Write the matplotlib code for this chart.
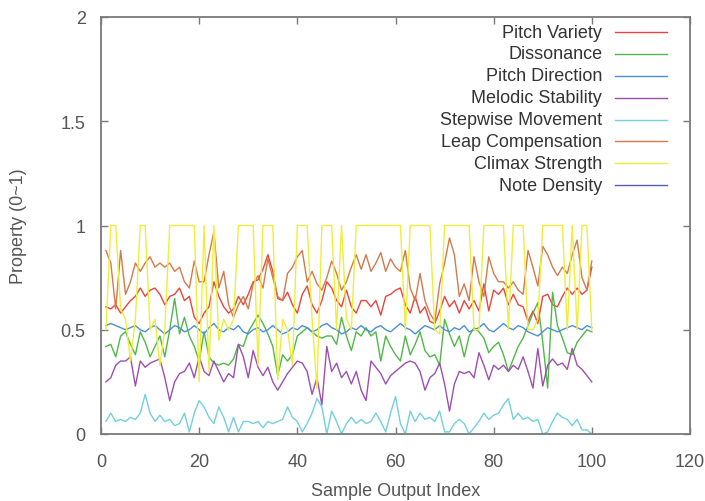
import matplotlib
matplotlib.use("Agg")
import matplotlib.pyplot as plt
import numpy as np

plt.rcParams["font.family"] = ["Liberation Sans", "DejaVu Sans"]

sample_index = list(range(1, 101))

pitch_variety = [
    0.61, 0.60, 0.62, 0.58, 0.61, 0.64, 0.66, 0.70, 0.66, 0.69,
    0.70, 0.67, 0.62, 0.66, 0.67, 0.70, 0.64, 0.66, 0.56, 0.53,
    0.58, 0.61, 0.73, 0.66, 0.61, 0.58, 0.60, 0.66, 0.62, 0.67,
    0.73, 0.74, 0.79, 0.86, 0.78, 0.65, 0.64, 0.68, 0.62, 0.58,
    0.67, 0.71, 0.62, 0.58, 0.64, 0.73, 0.70, 0.64, 0.61, 0.69,
    0.61, 0.58, 0.64, 0.64, 0.61, 0.64, 0.57, 0.66, 0.67, 0.69,
    0.70, 0.62, 0.58, 0.66, 0.58, 0.61, 0.54, 0.53, 0.59, 0.66,
    0.61, 0.64, 0.58, 0.64, 0.60, 0.64, 0.59, 0.72, 0.59, 0.69,
    0.67, 0.70, 0.62, 0.67, 0.62, 0.61, 0.54, 0.59, 0.53, 0.66,
    0.67, 0.62, 0.61, 0.66, 0.70, 0.67, 0.70, 0.67, 0.69, 0.80,
]

dissonance = [
    0.42, 0.43, 0.37, 0.47, 0.49, 0.43, 0.38, 0.49, 0.44, 0.37,
    0.42, 0.47, 0.37, 0.50, 0.65, 0.48, 0.56, 0.47, 0.42, 0.35,
    0.49, 0.37, 0.34, 0.33, 0.34, 0.33, 0.36, 0.43, 0.42, 0.49,
    0.53, 0.57, 0.53, 0.48, 0.42, 0.28, 0.38, 0.35, 0.38, 0.47,
    0.49, 0.51, 0.49, 0.47, 0.46, 0.47, 0.47, 0.43, 0.56, 0.47,
    0.40, 0.49, 0.47, 0.51, 0.47, 0.49, 0.35, 0.47, 0.42, 0.38,
    0.35, 0.47, 0.38, 0.43, 0.49, 0.40, 0.37, 0.38, 0.33, 0.55,
    0.48, 0.42, 0.47, 0.37, 0.47, 0.51, 0.49, 0.46, 0.39, 0.42,
    0.44, 0.38, 0.30, 0.36, 0.42, 0.46, 0.52, 0.58, 0.63, 0.44,
    0.22, 0.68, 0.52, 0.46, 0.39, 0.38, 0.44, 0.47, 0.50, 0.49,
]

pitch_direction = [
    0.52, 0.53, 0.52, 0.51, 0.50, 0.51, 0.52, 0.50, 0.49, 0.51,
    0.52, 0.50, 0.48, 0.50, 0.52, 0.51, 0.49, 0.50, 0.52, 0.50,
    0.48, 0.51, 0.53, 0.50, 0.49, 0.51, 0.50, 0.52, 0.49, 0.48,
    0.50, 0.51, 0.49, 0.50, 0.52, 0.50, 0.48, 0.49, 0.51, 0.50,
    0.52, 0.51, 0.49, 0.50, 0.52, 0.53, 0.51, 0.50, 0.48, 0.49,
    0.51, 0.50, 0.52, 0.50, 0.49, 0.51, 0.52, 0.50, 0.49, 0.51,
    0.53, 0.51, 0.50, 0.48, 0.50, 0.52, 0.51, 0.50, 0.52, 0.50,
    0.49, 0.51, 0.50, 0.52, 0.49, 0.50, 0.51, 0.53, 0.50, 0.49,
    0.51, 0.53, 0.51, 0.50, 0.52, 0.51, 0.49, 0.48, 0.47, 0.49,
    0.51, 0.50, 0.49, 0.50, 0.51, 0.52, 0.51, 0.50, 0.52, 0.51,
]

melodic_stability = [
    0.25, 0.27, 0.33, 0.35, 0.35, 0.37, 0.23, 0.35, 0.32, 0.34,
    0.35, 0.36, 0.27, 0.16, 0.25, 0.29, 0.30, 0.34, 0.27, 0.37,
    0.30, 0.28, 0.35, 0.30, 0.25, 0.29, 0.27, 0.43, 0.37, 0.27,
    0.40, 0.32, 0.28, 0.32, 0.25, 0.21, 0.25, 0.29, 0.32, 0.35,
    0.34, 0.30, 0.19, 0.27, 0.14, 0.42, 0.30, 0.34, 0.27, 0.30,
    0.24, 0.30, 0.21, 0.16, 0.35, 0.32, 0.29, 0.24, 0.28, 0.30,
    0.32, 0.34, 0.35, 0.34, 0.30, 0.21, 0.27, 0.29, 0.34, 0.24,
    0.11, 0.24, 0.30, 0.29, 0.30, 0.27, 0.39, 0.33, 0.26, 0.33,
    0.31, 0.33, 0.30, 0.33, 0.31, 0.37, 0.30, 0.22, 0.41, 0.23,
    0.33, 0.36, 0.33, 0.34, 0.31, 0.41, 0.33, 0.31, 0.28, 0.25,
]

stepwise_movement = [
    0.06, 0.10, 0.06, 0.07, 0.06, 0.08, 0.07, 0.10, 0.19, 0.10,
    0.06, 0.09, 0.06, 0.07, 0.04, 0.05, 0.10, 0.01, 0.10, 0.16,
    0.13, 0.08, 0.05, 0.13, 0.08, 0.01, 0.08, 0.01, 0.06, 0.06,
    0.05, 0.06, 0.03, 0.06, 0.05, 0.06, 0.07, 0.13, 0.08, 0.06,
    0.01, 0.05, 0.10, 0.17, 0.13, 0.00, 0.11, 0.06, 0.00, 0.05,
    0.08, 0.05, 0.07, 0.05, 0.06, 0.10, 0.06, 0.01, 0.10, 0.18,
    0.05, 0.00, 0.11, 0.06, 0.10, 0.07, 0.08, 0.06, 0.11, 0.01,
    0.01, 0.05, 0.07, 0.05, 0.00, 0.03, 0.06, 0.10, 0.07, 0.09,
    0.10, 0.14, 0.17, 0.07, 0.10, 0.07, 0.08, 0.06, 0.07, 0.00,
    0.01, 0.06, 0.10, 0.08, 0.07, 0.04, 0.07, 0.02, 0.02, 0.00,
]

leap_compensation = [
    0.88, 0.82, 0.60, 0.88, 0.67, 0.73, 0.82, 0.78, 0.82, 0.85,
    0.80, 0.82, 0.80, 0.82, 0.78, 0.80, 0.73, 0.70, 0.83, 0.73,
    0.73, 0.86, 0.97, 0.70, 0.78, 0.62, 0.56, 0.62, 0.66, 0.60,
    0.72, 0.76, 0.70, 0.84, 0.75, 0.66, 0.64, 0.77, 0.80, 0.85,
    0.88, 0.73, 0.78, 0.72, 0.69, 0.75, 0.83, 0.77, 0.69, 0.73,
    0.80, 0.86, 0.79, 0.86, 0.78, 0.82, 0.87, 0.78, 0.84, 0.80,
    0.78, 0.88, 0.70, 0.64, 0.77, 0.64, 0.58, 0.54, 0.72, 0.82,
    0.94, 0.86, 0.66, 0.72, 0.64, 0.85, 0.73, 0.66, 0.85, 0.77,
    0.73, 0.73, 0.70, 0.73, 0.69, 0.67, 0.88, 0.80, 0.71, 0.90,
    0.86, 0.80, 0.76, 0.80, 0.77, 0.86, 0.93, 0.75, 0.69, 0.83,
]

climax_strength = [
    0.50, 1.00, 1.00, 0.60, 0.55, 0.35, 0.55, 1.00, 1.00, 0.50,
    0.55, 0.33, 0.50, 1.00, 1.00, 1.00, 1.00, 1.00, 1.00, 0.25,
    1.00, 0.30, 1.00, 0.45, 0.55, 0.50, 0.55, 1.00, 1.00, 1.00,
    1.00, 0.33, 1.00, 1.00, 1.00, 0.26, 0.55, 0.50, 0.33, 1.00,
    1.00, 1.00, 0.55, 0.22, 1.00, 1.00, 1.00, 0.50, 1.00, 0.55,
    0.50, 1.00, 1.00, 1.00, 1.00, 1.00, 1.00, 1.00, 1.00, 1.00,
    1.00, 0.50, 1.00, 1.00, 1.00, 1.00, 1.00, 0.50, 0.48, 1.00,
    1.00, 1.00, 1.00, 1.00, 1.00, 0.50, 0.50, 1.00, 1.00, 1.00,
    1.00, 1.00, 0.50, 1.00, 1.00, 1.00, 0.50, 0.50, 0.55, 1.00,
    1.00, 1.00, 1.00, 1.00, 0.50, 1.00, 0.50, 1.00, 1.00, 0.50,
]

# not visible in the picture, only in the key
note_density = []

labels = ["Pitch Variety", "Dissonance", "Pitch Direction", "Melodic Stability",
          "Stepwise Movement", "Leap Compensation", "Climax Strength", "Note Density"]
colors = ["#e8453c", "#4fb848", "#4a8fd8", "#9c4fb0",
          "#72d0dc", "#d27a4c", "#eeee3a", "#5a5ab8"]
series = [pitch_variety, dissonance, pitch_direction, melodic_stability,
          stepwise_movement, leap_compensation, climax_strength, note_density]

x_ticks = [0, 20, 40, 60, 80, 100, 120]
y_ticks = [0, 0.5, 1, 1.5, 2]
y_tick_labels = ["0", "0.5", "1", "1.5", "2"]

grey = "#7a7a7a"
text_grey = "#555555"

fig = plt.figure(figsize=(7.05, 5.02), dpi=100)
ax = fig.add_axes([101 / 705, 1 - 435 / 502, 589 / 705, 417 / 502])

for vals, col in zip(series, colors):
    if len(vals):
        ax.plot(sample_index, vals, color=col, lw=1.0)

# gnuplot style key: text right aligned, sample line on the right
for i, (lab, col) in enumerate(zip(labels, colors)):
    yk = 0.964 - i * 0.0525
    ax.text(0.851, yk, lab, transform=ax.transAxes, ha="right", va="center",
            fontsize=13, color="#333333")
    ax.plot([0.873, 0.961], [yk, yk], transform=ax.transAxes, color=col, lw=1.0)

ax.set_xlim(0, 120)
ax.set_ylim(0, 2)
ax.set_xticks(x_ticks)
ax.set_yticks(y_ticks)
ax.set_yticklabels(y_tick_labels)
ax.tick_params(direction="in", top=True, right=True, length=5, width=1,
               color=grey, labelcolor=text_grey, labelsize=13)
ax.tick_params(axis="x", pad=14)
ax.tick_params(axis="y", pad=11)
for sp in ax.spines.values():
    sp.set_color(grey)
    sp.set_linewidth(1.3)

ax.set_xlabel("Sample Output Index", fontsize=13, color=text_grey)
ax.set_ylabel("Property (0~1)", fontsize=13, color=text_grey)
ax.xaxis.set_label_coords(0.5, -0.115)
ax.yaxis.set_label_coords(-0.126, 0.5)

plt.savefig("out.png", dpi=100)
plt.close()
